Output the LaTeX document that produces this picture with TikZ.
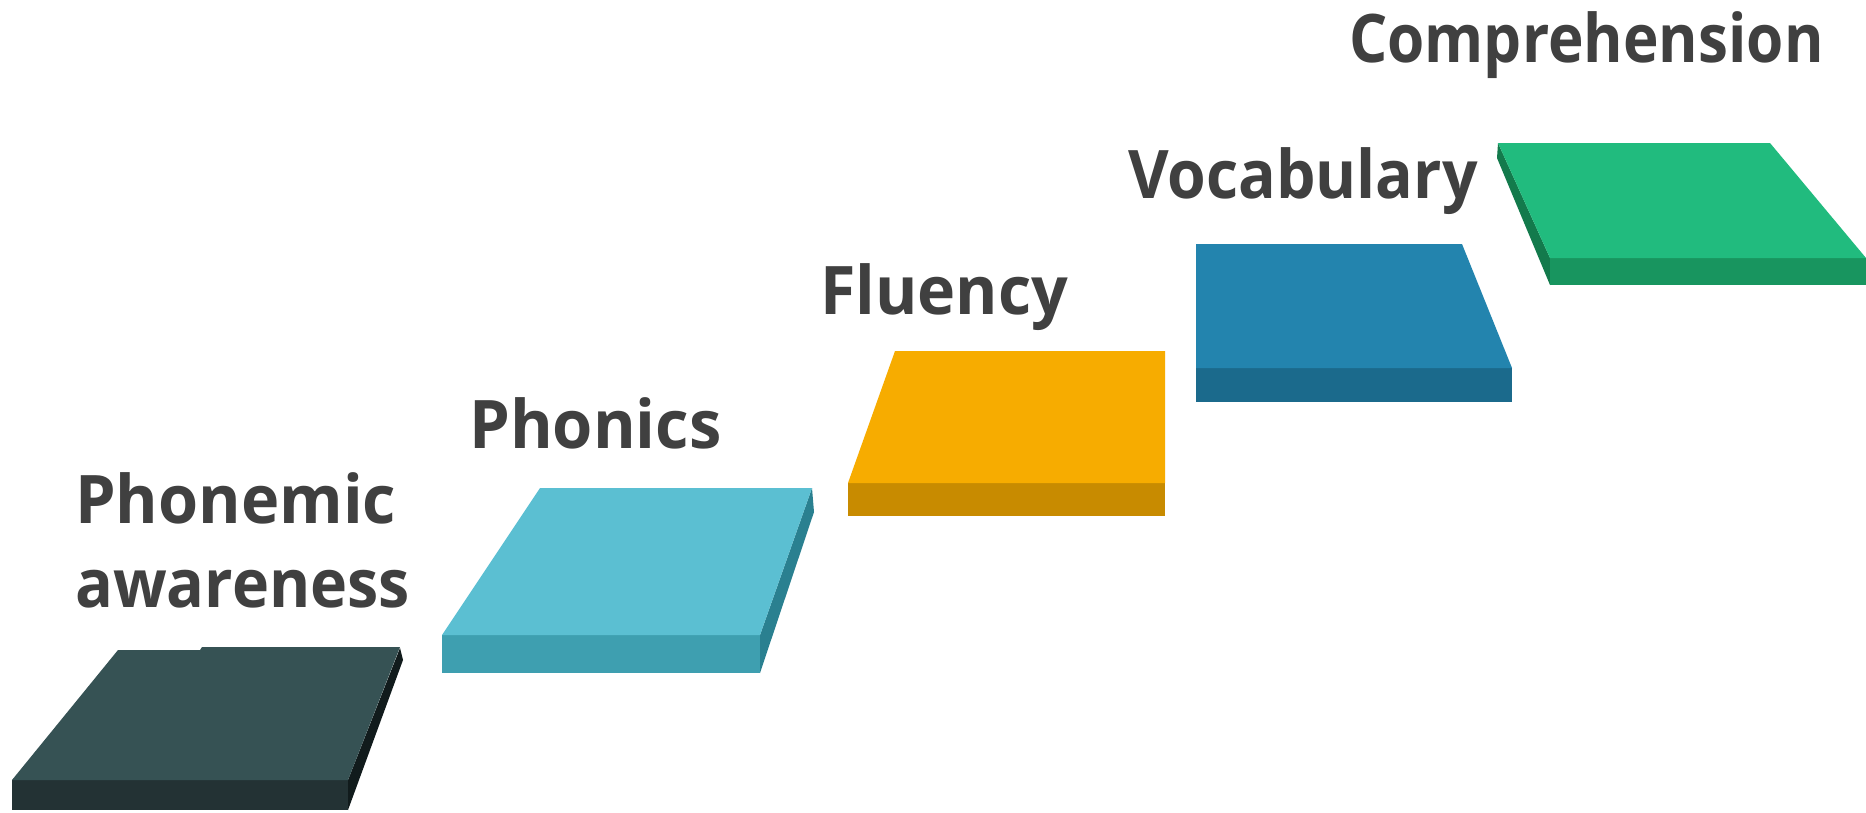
\documentclass[tikz,border=0pt]{standalone}
\usepackage{fontspec}
\setmainfont{Open Sans}
\newfontfamily\labfont[FakeStretch=0.86]{Open Sans}
\definecolor{txt}{HTML}{404040}
\definecolor{aTop}{HTML}{365254}\definecolor{aFront}{HTML}{233234}\definecolor{aSide}{HTML}{111B1C}
\definecolor{bTop}{HTML}{5BBFD2}\definecolor{bFront}{HTML}{3E9FB0}\definecolor{bSide}{HTML}{2A8090}
\definecolor{cTop}{HTML}{F7AC00}\definecolor{cFront}{HTML}{C88B00}
\definecolor{dTop}{HTML}{2384AE}\definecolor{dFront}{HTML}{1B6A8C}
\definecolor{eTop}{HTML}{21BB7E}\definecolor{eFront}{HTML}{18955F}\definecolor{eSide}{HTML}{137A4C}
\tikzset{lab/.style={anchor=base west,inner sep=0pt,text=txt,font=\labfont\bfseries\fontsize{67}{68}\selectfont}}
\begin{document}
\begin{tikzpicture}[x=1pt,y=-1pt]
\useasboundingbox (0,0) rectangle (1866,812);
\fill[white] (0,0) rectangle (1866,812);
% step 1
\fill[aSide] (400,648) -- (403,660) -- (348,810) -- (348,780) -- cycle;
\fill[aFront] (12,780) rectangle (348,810);
\fill[aTop] (118,650) -- (200,650) -- (202,647) -- (400,647) -- (348,780) -- (12,780) -- cycle;
% step 2
\fill[bSide] (812,488) -- (814,512) -- (760,673) -- (760,635) -- cycle;
\fill[bFront] (442,635) rectangle (760,673);
\fill[bTop] (540,488) -- (812,488) -- (760,635) -- (442,635) -- cycle;
% step 3
\fill[cFront] (848,483) rectangle (1165,516);
\fill[cTop] (895,351) -- (1165,351) -- (1165,483) -- (848,483) -- cycle;
% step 4
\fill[dFront] (1196,368) rectangle (1512,402);
\fill[dTop] (1196,244) -- (1462,244) -- (1512,368) -- (1196,368) -- cycle;
% step 5
\fill[eSide] (1498,143) -- (1550,258) -- (1550,285) -- (1497,158) -- cycle;
\fill[eFront] (1550,258) rectangle (1866,285);
\fill[eTop] (1498,143) -- (1770,143) -- (1866,258) -- (1550,258) -- cycle;
% labels
\node[lab] (l1a) at (75,523) {\scalebox{1.125}[1]{Phonemic}};
\node[lab] (l1b) at (75,607) {\scalebox{1.09}[1]{awareness}};
\node[lab] (l2) at (469,448) {\scalebox{1.13}[1]{Phonics}};
\node[lab] (l3) at (820,314) {\scalebox{1.12}[1]{Fluency}};
\node[lab] (l4) at (1128,198) {\scalebox{1.085}[1]{Vocabulary}};
\node[lab] (l5) at (1349,62) {\scalebox{1.045}[1]{Comprehension}};
\end{tikzpicture}
\end{document}
